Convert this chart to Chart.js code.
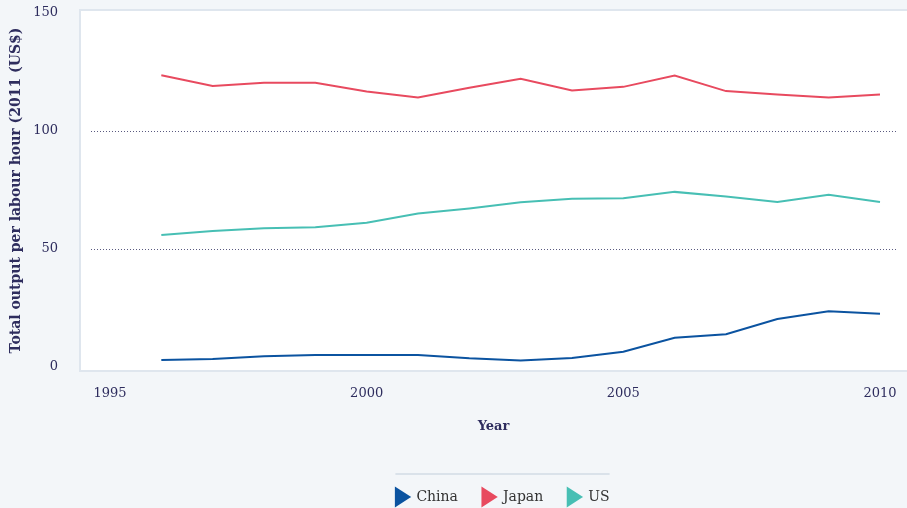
<!DOCTYPE html>
<html>
<head>
<meta charset="utf-8">
<script src="https://cdn.jsdelivr.net/npm/chart.js@4"></script>
<style>
  html, body { margin: 0; padding: 0; background: #f3f6f9; overflow: hidden; }
  #wrap { width: 907px; height: 508px; }
</style>
</head>
<body>
<div id="wrap"><canvas id="grafico"></canvas></div>
<script>
// anos e series
var anos = [1996, 1997, 1998, 1999, 2000, 2001, 2002, 2003, 2004, 2005, 2006, 2007, 2008, 2009, 2010];
var china = [3.0, 3.4, 4.5, 5.1, 5.1, 5.1, 3.7, 2.8, 3.8, 6.5, 12.4, 13.9, 20.3, 23.6, 22.6];
var japan = [123.6, 119.1, 120.4, 120.4, 116.7, 114.2, 118.3, 122.1, 117.2, 118.7, 123.5, 116.9, 115.5, 114.2, 115.5];
var us = [55.9, 57.6, 58.8, 59.2, 61.1, 65.0, 67.2, 69.8, 71.3, 71.5, 74.2, 72.2, 69.9, 73.0, 69.9];
var ticksX = [1995, 2000, 2005, 2010];
var ticksY = [0, 50, 100, 150];
var linhasGrade = [50, 100];

var corTexto = '#2e2d5e';
var serif = '"DejaVu Serif", serif';

function pontos(valores) {
  return anos.map(function (ano, i) { return { x: ano, y: valores[i] }; });
}

function serie(nome, valores, cor) {
  return {
    label: nome,
    data: pontos(valores),
    borderColor: cor,
    backgroundColor: cor,
    borderWidth: 2,
    pointRadius: 0,
    pointHoverRadius: 0,
    pointStyle: 'triangle',
    pointRotation: 90,
    tension: 0
  };
}

// fundo branco da area do grafico + linhas pontilhadas + linha da legenda
var fundoPlot = {
  id: 'fundoPlot',
  afterLayout: function (chart) {
    // legenda um pouco deslocada para a direita
    chart.legend.left += 47;
    chart.legend.right += 47;
  },
  beforeDatasetsDraw: function (chart) {
    var ctx = chart.ctx, a = chart.chartArea, y = chart.scales.y;
    ctx.save();
    ctx.fillStyle = '#ffffff';
    ctx.fillRect(a.left, a.top, a.right - a.left, a.bottom - a.top);
    ctx.strokeStyle = '#dfe6ee';
    ctx.lineWidth = 2;
    ctx.beginPath();
    ctx.moveTo(a.right, a.top);
    ctx.lineTo(a.left, a.top);
    ctx.lineTo(a.left, a.bottom);
    ctx.lineTo(a.right, a.bottom);
    ctx.stroke();
    ctx.strokeStyle = '#5a5a80';
    ctx.lineWidth = 1;
    ctx.setLineDash([1, 2]);
    linhasGrade.forEach(function (v) {
      var py = Math.round(y.getPixelForValue(v)) + 0.5;
      ctx.beginPath();
      ctx.moveTo(a.left + 11, py);
      ctx.lineTo(a.right - 10, py);
      ctx.stroke();
    });
    ctx.restore();
  },
  afterDraw: function (chart) {
    var lg = chart.legend, boxes = lg.legendHitBoxes;
    if (!boxes || !boxes.length) return;
    var x0 = boxes[0].left + 4, ult = boxes[boxes.length - 1];
    var x1 = ult.left + ult.width;
    var ctx = chart.ctx;
    ctx.save();
    ctx.strokeStyle = '#dae2ea';
    ctx.lineWidth = 2;
    ctx.beginPath();
    ctx.moveTo(x0, lg.top + 4);
    ctx.lineTo(x1, lg.top + 4);
    ctx.stroke();
    ctx.restore();
  }
};

var ctx = document.getElementById('grafico').getContext('2d');
new Chart(ctx, {
  type: 'line',
  data: {
    datasets: [
      serie('China', china, '#0b53a0'),
      serie('Japan', japan, '#e84a5f'),
      serie('US', us, '#47bfb4')
    ]
  },
  options: {
    responsive: true,
    maintainAspectRatio: false,
    animation: false,
    layout: { padding: { top: 10, right: 0, left: 0, bottom: -6 } },
    plugins: {
      tooltip: { enabled: false },
      legend: {
        position: 'bottom',
        labels: {
          usePointStyle: true,
          pointStyleWidth: 18,
          boxHeight: 14,
          padding: 20,
          color: '#333333',
          font: { family: serif, size: 14 }
        }
      }
    },
    scales: {
      x: {
        type: 'linear',
        min: 1994.416,
        max: 2010.526,
        afterBuildTicks: function (s) { s.ticks = ticksX.map(function (v) { return { value: v }; }); },
        afterFit: function (s) { s.height = 99; s.paddingLeft = 0; s.paddingRight = 0; },
        grid: { display: false, drawTicks: false },
        border: { display: false },
        ticks: {
          padding: 15,
          color: corTexto,
          font: { family: serif, size: 13 },
          maxRotation: 0,
          callback: function (v) { return String(v); }
        },
        title: {
          display: true,
          text: 'Year',
          color: corTexto,
          font: { family: serif, size: 13, weight: 'bold' },
          padding: { top: 0, bottom: 36 }
        }
      },
      y: {
        min: -1.7,
        max: 151.27,
        afterBuildTicks: function (s) { s.ticks = ticksY.map(function (v) { return { value: v }; }); },
        afterFit: function (s) { s.width = 80; s.paddingTop = 0; s.paddingBottom = 0; },
        grid: { display: false, drawTicks: false },
        border: { display: false },
        ticks: {
          padding: 22,
          color: corTexto,
          font: { family: serif, size: 13 }
        },
        title: {
          display: true,
          text: 'Total output per labour hour (2011 (US$)',
          color: corTexto,
          font: { family: serif, size: 14, weight: 'bold' },
          padding: { top: 8, bottom: 0 }
        }
      }
    }
  },
  plugins: [fundoPlot]
});
</script>
</body>
</html>
